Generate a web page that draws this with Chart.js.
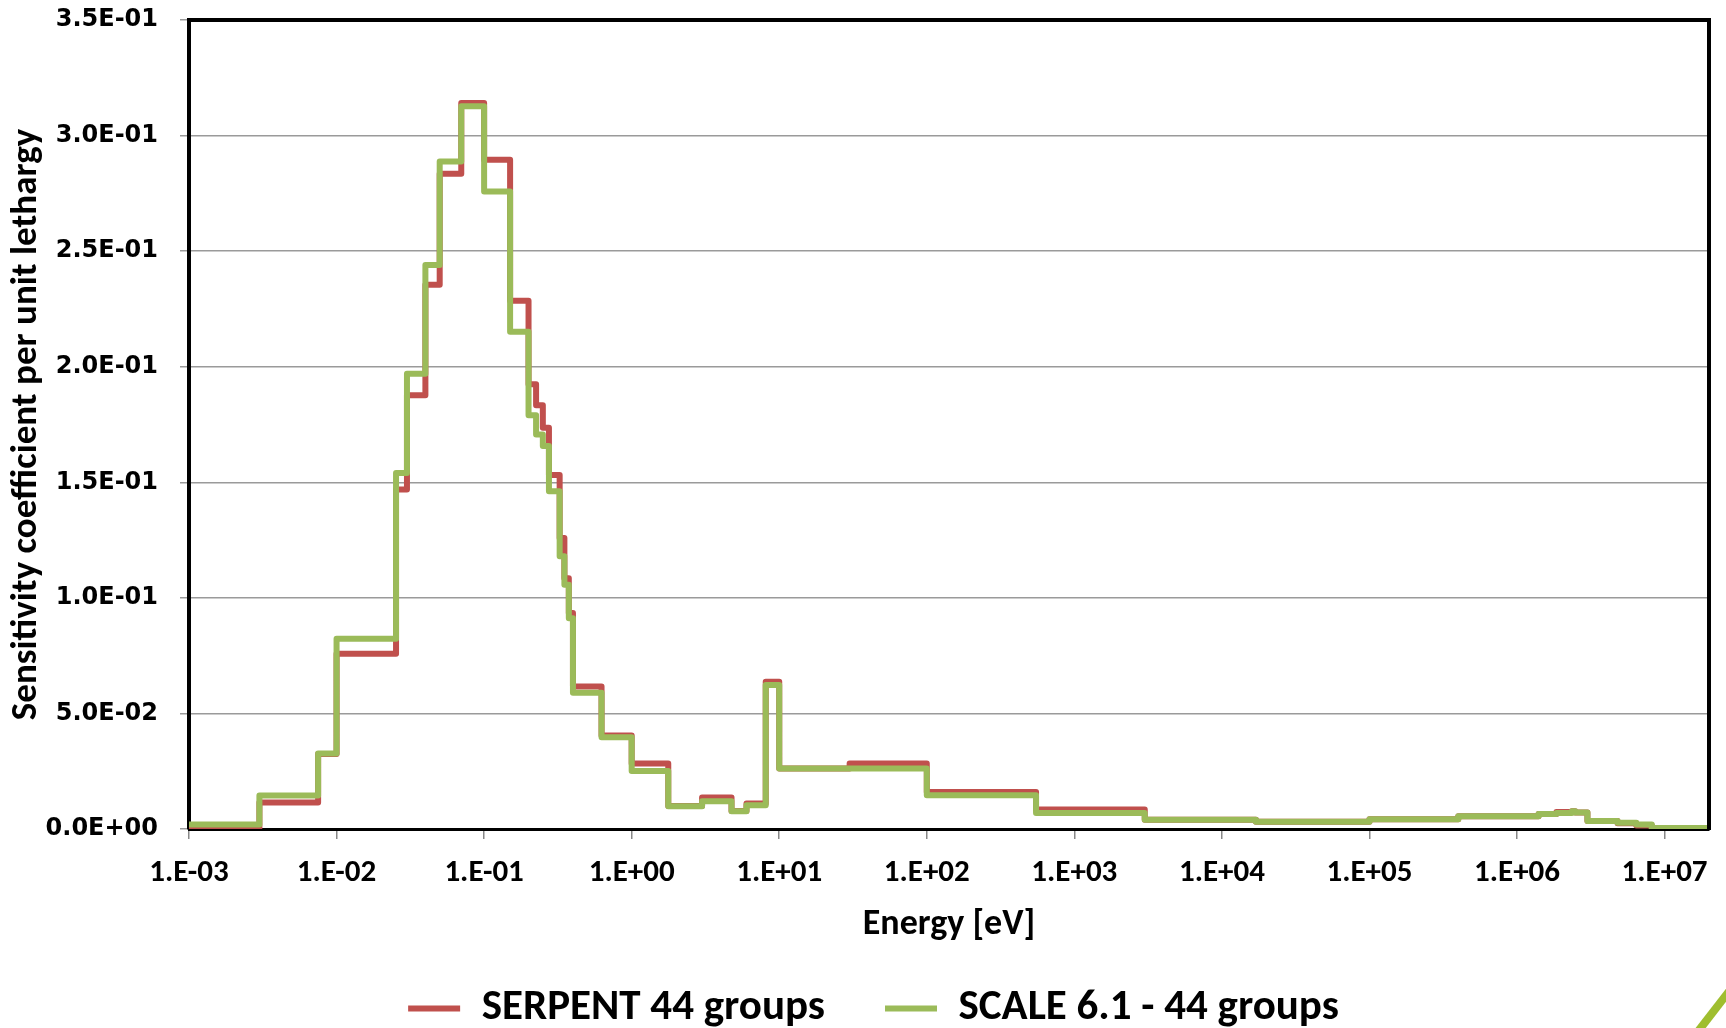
<!DOCTYPE html>
<html>
<head>
<meta charset="utf-8">
<script src="https://cdn.jsdelivr.net/npm/chart.js@4.4.1/dist/chart.umd.min.js"></script>
<style>
  html, body { margin: 0; padding: 0; overflow: hidden; background: #fff; }
  canvas { display: block; }
</style>
</head>
<body>
<canvas id="graficaSensibilidad" width="1726" height="1040" style="width:1726px;height:1040px"></canvas>
<script>
// 44 group energy boundaries (eV), ascending
const energyBounds = [1e-5, 3e-3, 7.5e-3, 1e-2, 2.53e-2, 3e-2, 4e-2, 5e-2, 7e-2, 0.1,
  0.15, 0.2, 0.225, 0.25, 0.275, 0.325, 0.35, 0.375, 0.4, 0.625,
  1.0, 1.77, 3.0, 4.75, 6.0, 8.1, 10, 30, 100, 550,
  3000, 17000, 25000, 1e5, 4e5, 9e5, 1.4e6, 1.85e6, 2.354e6, 2.479e6,
  3e6, 4.8e6, 6.434e6, 8.187e6, 2e7];

// sensitivity per unit lethargy, one value per group (low -> high energy)
const serpent = [0.0006, 0.0115, 0.0325, 0.0758, 0.1469, 0.1877, 0.2355, 0.2835, 0.3141, 0.2895,
  0.2285, 0.1924, 0.1833, 0.1736, 0.1531, 0.1259, 0.1085, 0.0934, 0.0616, 0.0405,
  0.0283, 0.0100, 0.0136, 0.0078, 0.0110, 0.0637, 0.0262, 0.0283, 0.0160, 0.0084,
  0.0040, 0.0031, 0.0031, 0.0042, 0.0055, 0.0055, 0.0065, 0.0074, 0.0077, 0.0071,
  0.0035, 0.0025, 0.0015, 0.0003];

const scale61 = [0.0020, 0.0145, 0.0327, 0.0823, 0.1540, 0.1970, 0.2440, 0.2888, 0.3127, 0.2758,
  0.2151, 0.1790, 0.1707, 0.1657, 0.1461, 0.1180, 0.1057, 0.0912, 0.0590, 0.0397,
  0.0251, 0.0098, 0.0120, 0.0077, 0.0103, 0.0623, 0.0262, 0.0262, 0.0146, 0.0069,
  0.0040, 0.0031, 0.0031, 0.0042, 0.0055, 0.0055, 0.0065, 0.0069, 0.0077, 0.0071,
  0.0035, 0.0027, 0.0019, 0.0004];

const xTicks = [1e-3, 1e-2, 1e-1, 1e0, 1e1, 1e2, 1e3, 1e4, 1e5, 1e6, 1e7];
const yTicks = [0, 0.05, 0.10, 0.15, 0.20, 0.25, 0.30, 0.35];

const condensed = 'Carlito, "Liberation Sans Narrow", "Open Sans", sans-serif';

// histogram -> points at lower bounds plus the last upper bound
function steps(vals) {
  const pts = vals.map((v, i) => ({ x: energyBounds[i], y: v }));
  pts.push({ x: energyBounds[energyBounds.length - 1], y: vals[vals.length - 1] });
  return pts;
}

function pad2(n) { return (n < 10 ? '0' : '') + n; }

function fmtX(v) {
  const e = Math.round(Math.log10(v));
  return '1.E' + (e < 0 ? '-' : '+') + pad2(Math.abs(e));
}

function fmtY(v) {
  if (Math.abs(v) < 1e-12) return '0.0E+00';
  let e = Math.floor(Math.log10(v) + 1e-9);
  const m = v / Math.pow(10, e);
  return m.toFixed(1) + 'E' + (e < 0 ? '-' : '+') + pad2(Math.abs(e));
}

const marco = {
  id: 'marco',
  afterDatasetsDraw(chart) {
    const { ctx, chartArea: a } = chart;
    ctx.save();
    ctx.strokeStyle = '#000';
    ctx.lineWidth = 4;
    ctx.beginPath();
    ctx.moveTo(a.left - 2, a.top);
    ctx.lineTo(a.right, a.top);
    ctx.lineTo(a.right, a.bottom + 1);
    ctx.stroke();
    ctx.restore();
  },
  afterDraw(chart) {
    // slide decoration in the corner
    const ctx = chart.ctx;
    ctx.save();
    ctx.strokeStyle = '#9fbe2f';
    ctx.lineWidth = 8;
    ctx.beginPath();
    ctx.moveTo(1696, 1034);
    ctx.lineTo(1730, 990);
    ctx.stroke();
    ctx.restore();
  }
};

const ctx = document.getElementById('graficaSensibilidad').getContext('2d');
const grafica = new Chart(ctx, {
  type: 'line',
  data: {
    datasets: [{
      label: 'SERPENT 44 groups',
      data: steps(serpent),
      borderColor: '#C0504D',
      backgroundColor: '#C0504D',
      borderWidth: 6,
      stepped: 'before',
      pointRadius: 0,
      borderJoinStyle: 'round',
      order: 1
    }, {
      label: 'SCALE 6.1 - 44 groups',
      data: steps(scale61),
      borderColor: '#9BBB59',
      backgroundColor: '#9BBB59',
      borderWidth: 6,
      stepped: 'before',
      pointRadius: 0,
      borderJoinStyle: 'round',
      order: 0
    }]
  },
  options: {
    responsive: false,
    animation: false,
    devicePixelRatio: 1,
    layout: { padding: { top: 20, right: 17, bottom: 0, left: 38 } },
    plugins: {
      tooltip: { enabled: false },
      legend: {
        position: 'bottom',
        labels: {
          usePointStyle: true,
          pointStyle: 'line',
          pointStyleWidth: 52,
          padding: 60,
          color: '#000',
          font: { family: condensed, size: 43, weight: 'bold' },
          sort: (a, b) => a.datasetIndex - b.datasetIndex
        }
      }
    },
    scales: {
      x: {
        type: 'logarithmic',
        min: 1e-3,
        max: 2e7,
        afterBuildTicks: (s) => { s.ticks = xTicks.map(v => ({ value: v })); },
        afterFit: (s) => { s.height = 98; },
        ticks: {
          autoSkip: false,
          maxRotation: 0,
          padding: 16,
          color: '#000',
          font: { family: condensed, size: 31, weight: 'bold' },
          callback: (v) => fmtX(v)
        },
        grid: { drawOnChartArea: false, tickLength: 10, color: '#888', lineWidth: 1.5 },
        border: { color: '#000', width: 3 },
        title: {
          display: true,
          text: 'Energy [eV]',
          color: '#000',
          font: { family: condensed, size: 36, weight: 'bold' },
          padding: { top: 0, bottom: -20 }
        }
      },
      y: {
        min: 0,
        max: 0.35,
        afterBuildTicks: (s) => { s.ticks = yTicks.map(v => ({ value: v })); },
        afterFit: (s) => { s.width = 151; s.paddingTop = 0; s.paddingBottom = 0; },
        ticks: {
          padding: 22,
          color: '#000',
          font: { family: '"DejaVu Sans", Verdana, sans-serif', size: 24, weight: 'bold' },
          callback: (v) => fmtY(v)
        },
        grid: { color: '#9a9a9a', lineWidth: 1.5, tickLength: 9 },
        border: { color: '#000', width: 4 },
        title: {
          display: true,
          text: 'Sensitivity coefficient per unit lethargy',
          color: '#000',
          font: { family: condensed, size: 37, weight: 'bold' },
          padding: { top: -33, bottom: 0 }
        }
      }
    }
  },
  plugins: [marco]
});
</script>
</body>
</html>
